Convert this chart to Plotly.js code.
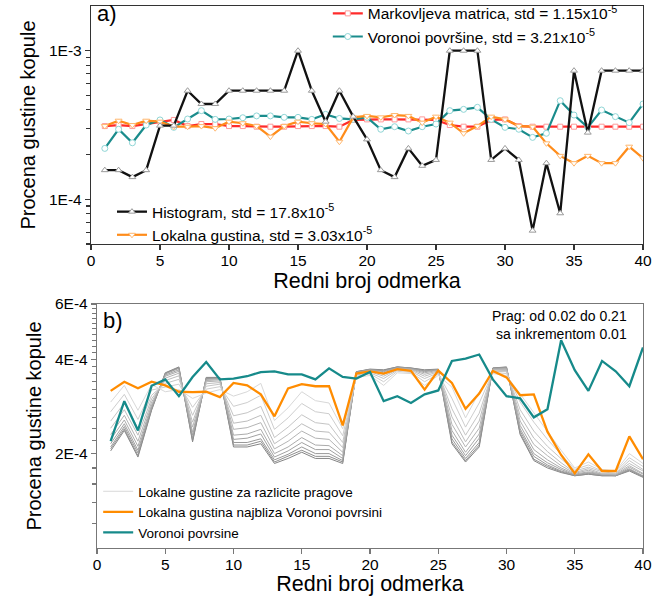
<!DOCTYPE html>
<html>
<head>
<meta charset="utf-8">
<script src="https://cdn.plot.ly/plotly-3.0.1.min.js"></script>
<style>
html,body{margin:0;padding:0;background:#fff;}
#chart{width:668px;height:596px;}
</style>
</head>
<body>
<div id="chart"></div>
<script>
// sample index (Redni broj odmerka)
const sample = [1,2,3,4,5,6,7,8,9,10,11,12,13,14,15,16,17,18,19,20,21,22,23,24,25,26,27,28,29,30,31,32,33,34,35,36,37,38,39,40];

// ---- panel a) values in units of 1E-4 ----
const markovA = [3.11,3.16,3.11,3.21,3.33,3.42,3.11,3.21,3.21,3.11,3.11,3.08,3.08,3.08,3.11,3.11,3.11,3.08,3.42,3.45,3.45,3.45,3.45,3.45,3.42,3.16,3.08,3.08,3.42,3.45,3.11,3.08,3.08,3.08,3.08,3.08,3.08,3.08,3.08,3.08];
const voronoiA = [2.20,2.96,2.40,3.16,3.42,3.05,3.47,3.95,3.45,3.47,3.54,3.64,3.64,3.56,3.56,3.45,3.73,3.50,3.45,3.56,2.96,3.08,2.88,3.08,3.21,3.95,4.03,4.16,3.45,3.05,2.96,2.61,2.78,4.61,3.69,3.05,3.99,3.60,3.28,4.38];
const histogramA = [1.57,1.57,1.41,1.57,3.13,3.13,5.38,4.38,4.38,5.38,5.38,5.38,5.38,5.38,10.0,5.38,3.33,5.38,3.60,2.53,1.57,1.41,2.20,1.68,1.84,10.0,10.0,10.0,1.84,2.20,1.84,0.615,1.75,0.805,7.34,2.81,7.34,7.34,7.34,7.34];
const lokalnaA = [3.11,3.38,3.16,3.38,3.33,3.08,3.08,3.11,3.01,3.33,3.25,3.11,2.64,3.11,3.33,3.25,3.21,2.44,3.56,3.64,3.56,3.69,3.64,3.28,3.60,3.28,2.78,3.11,3.60,3.45,3.11,3.08,2.38,1.96,1.75,1.96,1.75,1.75,2.26,1.89];

// ---- panel b) values in units of 1E-4 ----
const voronoiB = [2.19,2.94,2.37,3.29,3.45,3.05,3.51,3.92,3.45,3.47,3.53,3.64,3.66,3.58,3.58,3.45,3.74,3.51,3.47,3.64,2.94,3.05,2.90,3.09,3.18,3.95,4.02,4.14,3.45,3.05,3.00,2.61,2.77,4.60,3.69,3.17,3.95,3.66,3.28,4.36];
const najblizaB = [3.17,3.39,3.23,3.39,3.30,3.15,3.14,3.15,3.03,3.36,3.30,3.09,2.63,3.23,3.33,3.28,3.28,2.46,3.60,3.66,3.60,3.72,3.67,3.20,3.68,3.36,2.78,3.11,3.67,3.50,3.07,3.09,2.35,1.98,1.73,1.99,1.76,1.76,2.27,1.92];
// local densities for a range of thresholds (prag)
const prag002 = [2.04,2.37,1.95,2.75,3.62,3.78,2.18,3.50,3.50,2.10,2.10,2.15,1.86,1.93,2.02,1.93,1.93,1.86,3.65,3.72,3.70,3.78,3.75,3.70,3.72,2.15,1.88,2.10,3.75,3.78,2.30,1.90,1.80,1.74,1.70,1.72,1.70,1.70,1.76,1.68];
const prag004 = [2.07,2.40,1.97,2.77,3.61,3.76,2.20,3.49,3.49,2.13,2.13,2.19,1.88,1.96,2.05,1.96,1.96,1.88,3.65,3.71,3.69,3.78,3.75,3.69,3.71,2.18,1.90,2.13,3.75,3.77,2.32,1.92,1.82,1.75,1.70,1.72,1.70,1.70,1.77,1.69];
const prag006 = [2.10,2.44,2.01,2.79,3.59,3.74,2.24,3.47,3.48,2.17,2.17,2.23,1.91,1.99,2.10,2.00,2.00,1.90,3.64,3.71,3.67,3.77,3.74,3.67,3.71,2.23,1.93,2.17,3.74,3.76,2.36,1.96,1.84,1.76,1.71,1.73,1.71,1.70,1.78,1.69];
const prag008 = [2.15,2.49,2.05,2.82,3.56,3.70,2.29,3.45,3.46,2.22,2.24,2.31,1.95,2.04,2.17,2.06,2.06,1.93,3.63,3.70,3.65,3.76,3.73,3.65,3.70,2.29,1.97,2.24,3.73,3.75,2.40,2.00,1.87,1.78,1.71,1.74,1.71,1.71,1.79,1.70];
const prag010 = [2.22,2.56,2.11,2.86,3.53,3.66,2.34,3.42,3.44,2.29,2.31,2.39,2.00,2.10,2.25,2.13,2.12,1.97,3.62,3.69,3.62,3.75,3.72,3.62,3.69,2.37,2.02,2.31,3.72,3.73,2.46,2.06,1.91,1.80,1.72,1.75,1.72,1.71,1.81,1.72];
const prag012 = [2.30,2.65,2.19,2.92,3.48,3.61,2.43,3.39,3.41,2.39,2.42,2.51,2.07,2.19,2.36,2.24,2.22,2.02,3.61,3.67,3.58,3.73,3.71,3.58,3.67,2.48,2.10,2.41,3.71,3.71,2.54,2.14,1.97,1.83,1.73,1.77,1.72,1.72,1.83,1.73];
const prag014 = [2.41,2.76,2.29,2.99,3.42,3.54,2.52,3.34,3.37,2.50,2.54,2.65,2.15,2.30,2.49,2.36,2.34,2.09,3.59,3.65,3.53,3.71,3.69,3.53,3.65,2.62,2.18,2.54,3.69,3.68,2.64,2.24,2.03,1.87,1.74,1.79,1.73,1.73,1.86,1.76];
const prag016 = [2.54,2.90,2.41,3.07,3.35,3.45,2.65,3.28,3.33,2.64,2.70,2.83,2.25,2.43,2.66,2.51,2.48,2.17,3.56,3.62,3.47,3.69,3.66,3.47,3.62,2.78,2.29,2.69,3.66,3.65,2.76,2.36,2.11,1.92,1.76,1.81,1.75,1.73,1.90,1.78];
const prag018 = [2.72,3.09,2.57,3.19,3.26,3.33,2.81,3.21,3.27,2.83,2.91,3.07,2.39,2.60,2.89,2.72,2.68,2.28,3.53,3.59,3.39,3.66,3.63,3.39,3.59,3.00,2.43,2.90,3.63,3.60,2.92,2.52,2.22,1.98,1.78,1.84,1.76,1.75,1.94,1.82];
const prag020 = [2.92,3.30,2.75,3.32,3.15,3.20,3.00,3.12,3.20,3.05,3.15,3.35,2.55,2.80,3.15,2.95,2.90,2.40,3.50,3.55,3.30,3.62,3.60,3.30,3.55,3.26,2.60,3.14,3.60,3.55,3.10,2.70,2.35,2.05,1.80,1.88,1.78,1.76,2.00,1.86];

// tick labels
const xTicks = [0,5,10,15,20,25,30,35,40];
const yTicksA = [1,10];
const yTickTextA = ['1E-4','1E-3'];
const yMinorA = [0.5,0.6,0.7,0.8,0.9,2,3,4,5,6,7,8,9];
const yTicksB = [2,4,6];
const yTickTextB = ['2E-4','4E-4','6E-4'];
const yMinorB = [1.2,1.4,1.6,1.8,2.2,2.4,2.6,2.8,3.0,3.2,3.4,3.6,3.8,4.2,4.4,4.6,4.8,5.0,5.2,5.4,5.6,5.8];

const FONT = 'Arial, "Liberation Sans", sans-serif';

const data = [];

// panel a)
data.push({x: sample, y: markovA, xaxis:'x', yaxis:'y', legend:'legend', mode:'lines+markers',
  name:'Markovljeva matrica, std = 1.15x10<sup>-5</sup>',
  line:{color:'#ff2b2b', width:2.2},
  marker:{symbol:'square', size:5, color:'#ffffff', line:{color:'#ff9a9a', width:1}}});
data.push({x: sample, y: voronoiA, xaxis:'x', yaxis:'y', legend:'legend', mode:'lines+markers',
  name:'Voronoi površine, std = 3.21x10<sup>-5</sup>',
  line:{color:'#1a8c8c', width:2.2},
  marker:{symbol:'circle', size:6, color:'#ffffff', line:{color:'#8fd6d6', width:1}}});
data.push({x: sample, y: lokalnaA, xaxis:'x', yaxis:'y', legend:'legend2', mode:'lines+markers',
  name:'Lokalna gustina, std = 3.03x10<sup>-5</sup>',
  line:{color:'#ff8c1a', width:2.2},
  marker:{symbol:'triangle-down', size:6, color:'#ffffff', line:{color:'#ffb870', width:1}},
  legendrank: 2});
data.push({x: sample, y: histogramA, xaxis:'x', yaxis:'y', legend:'legend2', mode:'lines+markers',
  name:'Histogram, std = 17.8x10<sup>-5</sup>',
  line:{color:'#111111', width:2.3},
  marker:{symbol:'triangle-up', size:6, color:'#ffffff', line:{color:'#9a9a9a', width:1}},
  legendrank: 1});

// panel b)
const pragSeries = [prag002,prag004,prag006,prag008,prag010,prag012,prag014,prag016,prag018,prag020];
const pragColors = ['#858585','#8f8f8f','#999999','#a2a2a2','#ababab','#b4b4b4','#bdbdbd','#c5c5c5','#cecece','#d8d8d8'];
pragSeries.forEach((s, i) => {
  data.push({x: sample, y: s, xaxis:'x2', yaxis:'y2', legend:'legend3', mode:'lines',
    name:'Lokalne gustine za razlicite pragove', legendgroup:'prag',
    showlegend: i === pragSeries.length - 1, legendrank: 1,
    line:{color: pragColors[i], width:1}});
});
data.push({x: sample, y: najblizaB, xaxis:'x2', yaxis:'y2', legend:'legend3', mode:'lines',
  name:'Lokalna gustina najbliza Voronoi povrsini', legendrank: 2,
  line:{color:'#ff8c00', width:2.3}});
data.push({x: sample, y: voronoiB, xaxis:'x2', yaxis:'y2', legend:'legend3', mode:'lines',
  name:'Voronoi povrsine', legendrank: 3,
  line:{color:'#168a8a', width:2.3}});

const axisCommon = {
  showline:true, mirror:true, linewidth:1.2, ticks:'outside', ticklen:5, tickwidth:1.2,
  showgrid:false, zeroline:false, automargin:false, tickfont:{family:FONT, size:15.5, color:'#000'}
};

const layout = {
  width:668, height:596,
  margin:{l:91, r:25, t:6, b:48, autoexpand:false},
  paper_bgcolor:'#fff', plot_bgcolor:'#fff',
  font:{family:FONT, color:'#000'},
  showlegend:true,
  xaxis: Object.assign({}, axisCommon, {
    domain:[0,1], anchor:'y', range:[0,40], tickmode:'array', tickvals:xTicks,
    linecolor:'#333', tickcolor:'#333', ticklabelstandoff:-3,
    title:{text:'Redni broj odmerka', font:{family:FONT, size:21.5}, standoff:1}
  }),
  yaxis: Object.assign({}, axisCommon, {
    domain:[0.5609,1], anchor:'x', type:'log', range:[Math.log10(0.5), Math.log10(20)],
    tickmode:'array', tickvals:yTicksA, ticktext:yTickTextA,
    linecolor:'#333', tickcolor:'#333',
    minor:{tickmode:'array', tickvals:yMinorA, ticks:'outside', ticklen:3.5, tickcolor:'#333', showgrid:false},
    title:{text:'Procena gustine kopule', font:{family:FONT, size:20}, standoff:8}
  }),
  xaxis2: Object.assign({}, axisCommon, {
    domain:[0.0109,1], anchor:'y2', range:[0,40], tickmode:'array', tickvals:xTicks,
    linecolor:'#777', tickcolor:'#777', ticklabelstandoff:-3,
    title:{text:'Redni broj odmerka', font:{family:FONT, size:21.5}, standoff:4}
  }),
  yaxis2: Object.assign({}, axisCommon, {
    domain:[0,0.4502], anchor:'x2', type:'log', range:[0, Math.log10(6)],
    tickmode:'array', tickvals:yTicksB, ticktext:yTickTextB,
    linecolor:'#777', tickcolor:'#777',
    minor:{tickmode:'array', tickvals:yMinorB, ticks:'outside', ticklen:3.5, tickcolor:'#777', showgrid:false},
    title:{text:'Procena gustine kopule', font:{family:FONT, size:20}, standoff:8}
  }),
  legend:{x:0.429, y:1.017, xanchor:'left', yanchor:'top', bgcolor:'rgba(0,0,0,0)',
    font:{family:FONT, size:15.5}, tracegroupgap:0},
  legend2:{x:0.038, y:0.546, xanchor:'left', yanchor:'bottom', bgcolor:'rgba(0,0,0,0)',
    font:{family:FONT, size:15.5}, tracegroupgap:0},
  legend3:{x:0.013, y:0.0, xanchor:'left', yanchor:'bottom', bgcolor:'rgba(0,0,0,0)',
    font:{family:FONT, size:13.5}, tracegroupgap:0, traceorder:'normal'},
  annotations:[
    {text:'a)', xref:'paper', yref:'paper', x:0.008, y:1.013, xanchor:'left', yanchor:'top',
     showarrow:false, font:{family:FONT, size:22}},
    {text:'b)', xref:'paper', yref:'paper', x:0.018, y:0.447, xanchor:'left', yanchor:'top',
     showarrow:false, font:{family:FONT, size:22}},
    {text:'Prag: od 0.02 do 0.21<br>sa inkrementom 0.01', xref:'paper', yref:'paper',
     x:0.975, y:0.446, xanchor:'right', yanchor:'top', align:'right',
     showarrow:false, font:{family:FONT, size:14}}
  ]
};

Plotly.newPlot('chart', data, layout, {staticPlot:true, displayModeBar:false});
</script>
</body>
</html>
